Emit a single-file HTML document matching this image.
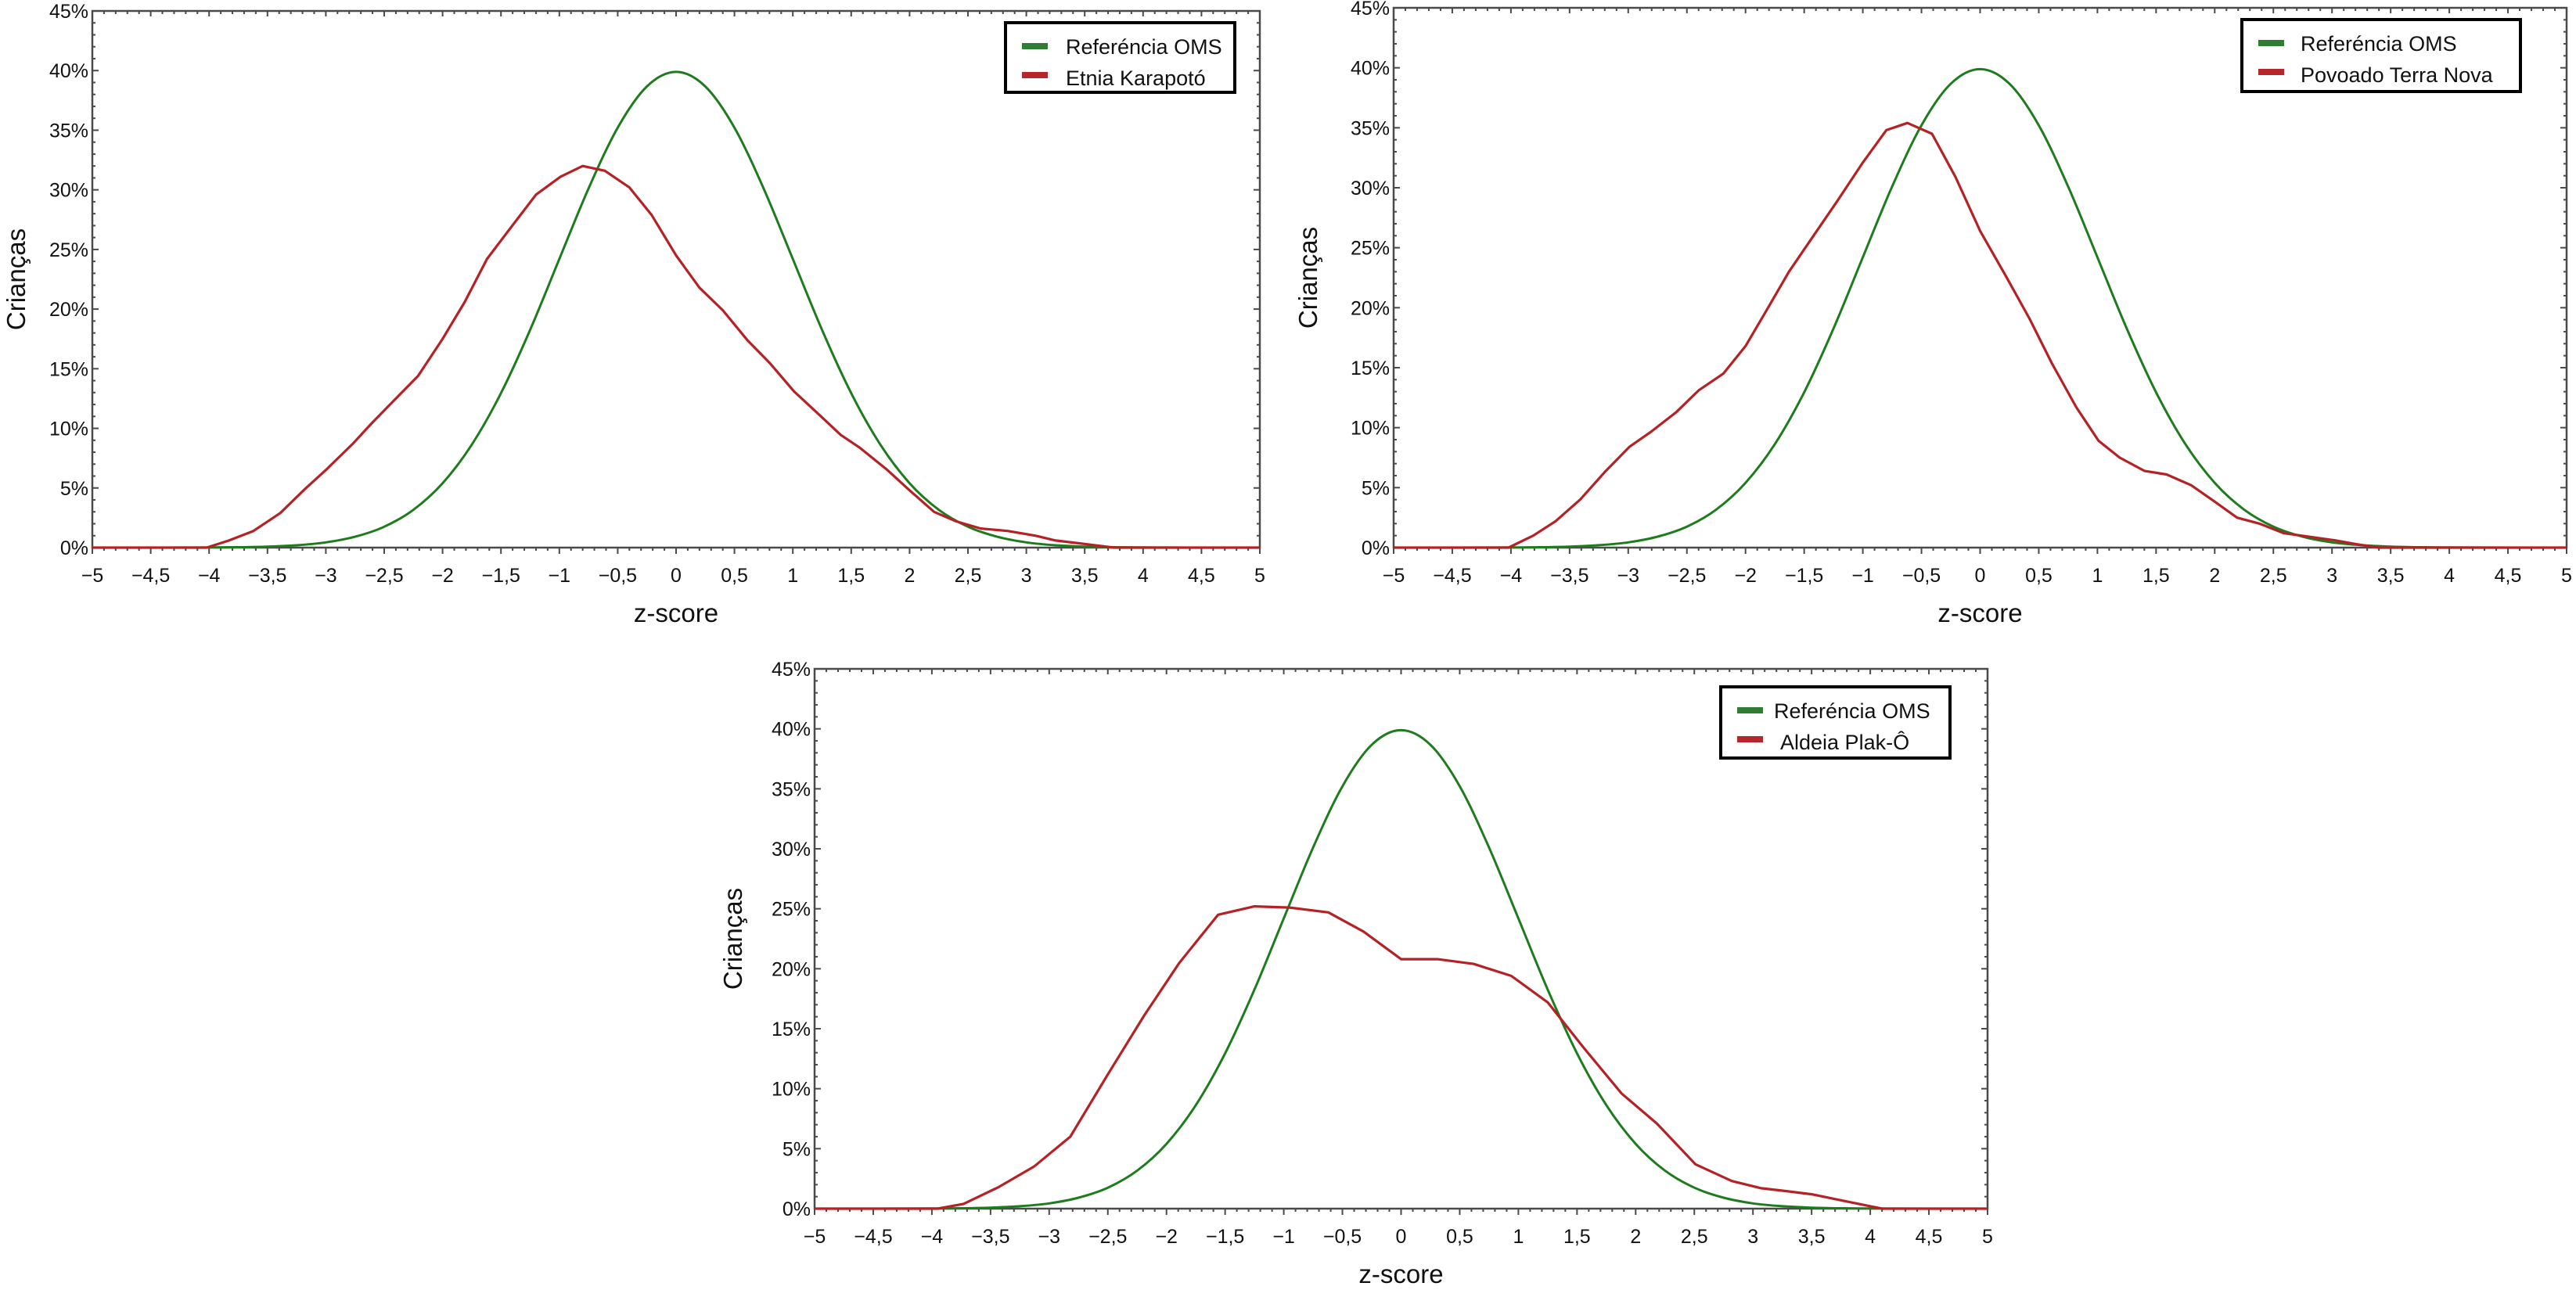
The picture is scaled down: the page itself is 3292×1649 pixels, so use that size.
<!DOCTYPE html>
<html><head><meta charset="utf-8"><style>
html,body{margin:0;padding:0;background:#fff;}
svg{display:block;font-family:"Liberation Sans",Arial,sans-serif;}
</style></head><body>
<svg id="fig" width="3292" height="1649" viewBox="0 0 3292 1649" xmlns="http://www.w3.org/2000/svg"></svg>
<script>
// ---- data ----
const xTickLabels = ["\u22125","\u22124,5","\u22124","\u22123,5","\u22123","\u22122,5","\u22122","\u22121,5","\u22121","\u22120,5","0","0,5","1","1,5","2","2,5","3","3,5","4","4,5","5"];
const yTickLabels = ["0%","5%","10%","15%","20%","25%","30%","35%","40%","45%"];
const whoZ = [-5,-4.75,-4.5,-4.25,-4,-3.75,-3.5,-3.25,-3,-2.75,-2.5,-2.25,-2,-1.75,-1.5,-1.25,-1,-0.75,-0.5,-0.25,0,0.25,0.5,0.75,1,1.25,1.5,1.75,2,2.25,2.5,2.75,3,3.25,3.5,3.75,4,4.25,4.5,4.75,5];
const whoVal = [0.0001,0.0005,0.002,0.005,0.013,0.035,0.087,0.20,0.44,0.91,1.75,3.17,5.40,8.63,12.95,18.26,24.20,30.11,35.21,38.67,39.89,38.67,35.21,30.11,24.20,18.26,12.95,8.63,5.40,3.17,1.75,0.91,0.44,0.20,0.087,0.035,0.013,0.005,0.002,0.0005,0.0001];

const karZ = [-5,-4.02,-3.83,-3.62,-3.39,-3.18,-2.99,-2.77,-2.61,-2.42,-2.21,-2.0,-1.81,-1.62,-1.41,-1.2,-0.99,-0.8,-0.61,-0.4,-0.21,0.0,0.2,0.4,0.61,0.8,1.01,1.22,1.41,1.57,1.81,2.0,2.21,2.4,2.61,2.84,3.08,3.25,3.5,3.75,5];
const karVal = [0,0,0.6,1.4,2.9,4.9,6.6,8.7,10.4,12.3,14.4,17.5,20.6,24.2,26.9,29.6,31.1,32.0,31.6,30.2,27.9,24.5,21.8,19.9,17.4,15.5,13.1,11.2,9.45,8.4,6.5,4.8,3.0,2.2,1.6,1.4,1.0,0.6,0.3,0,0];

const tnZ = [-5,-4.02,-3.81,-3.62,-3.41,-3.2,-2.99,-2.8,-2.59,-2.4,-2.19,-2.0,-1.82,-1.63,-1.42,-1.21,-1.0,-0.8,-0.62,-0.41,-0.21,0.0,0.21,0.42,0.61,0.82,1.01,1.19,1.4,1.59,1.8,1.99,2.19,2.38,2.59,2.81,3.03,3.2,3.4,5];
const tnVal = [0,0,1.0,2.2,4.0,6.3,8.4,9.7,11.3,13.1,14.5,16.8,19.8,23.0,26.0,29.0,32.1,34.8,35.4,34.5,30.9,26.4,22.8,19.1,15.4,11.7,8.9,7.5,6.4,6.1,5.2,3.9,2.5,2.0,1.2,0.9,0.6,0.3,0,0];

const plakZ = [-5,-3.95,-3.73,-3.43,-3.13,-2.82,-2.5,-2.19,-1.89,-1.56,-1.25,-0.95,-0.62,-0.32,0.0,0.31,0.62,0.94,1.25,1.55,1.88,2.18,2.51,2.82,3.07,3.25,3.5,3.75,4.0,4.1,5];
const plakVal = [0,0,0.4,1.8,3.5,6.0,11.2,16.1,20.5,24.5,25.2,25.1,24.7,23.1,20.8,20.8,20.4,19.4,17.2,13.5,9.6,7.1,3.7,2.3,1.7,1.5,1.2,0.7,0.2,0,0];

const panelNames = ["Etnia Karapotó","Povoado Terra Nova","Aldeia Plak-Ô"];

// ---- layout ----
const NS = "http://www.w3.org/2000/svg";
const svg = document.getElementById('fig');
function mk(tag, attrs, parent){ const e=document.createElementNS(NS,tag); for(const k in attrs) e.setAttribute(k,attrs[k]); (parent||svg).appendChild(e); return e; }

function smoothPath(pts){
  let d = "M"+pts[0][0].toFixed(1)+","+pts[0][1].toFixed(1);
  for(let i=0;i<pts.length-1;i++){
    const p0=pts[Math.max(0,i-1)], p1=pts[i], p2=pts[i+1], p3=pts[Math.min(pts.length-1,i+2)];
    const c1=[p1[0]+(p2[0]-p0[0])/6, p1[1]+(p2[1]-p0[1])/6];
    const c2=[p2[0]-(p3[0]-p1[0])/6, p2[1]-(p3[1]-p1[1])/6];
    d+=" C"+c1[0].toFixed(1)+","+c1[1].toFixed(1)+" "+c2[0].toFixed(1)+","+c2[1].toFixed(1)+" "+p2[0].toFixed(1)+","+p2[1].toFixed(1);
  }
  return d;
}

function drawPanel(cfg, zArr, vArr, label, idx){
  const g = mk('g',{});
  
  
  const L=cfg.l,R=cfg.r,T=cfg.t,B=cfg.b;
  const xs = z => L + (z+5)/10*(R-L);
  const ys = v => B - v/45*(B-T);
  const ax = '#4a4a4a';
  const fr = mk('rect',{x:L,y:T,width:R-L,height:B-T,fill:'none',stroke:ax,'stroke-width':2.5},g);
  
  
  for(let i=0;i<=100;i++){
    const x = L + i/100*(R-L);
    const major = i%5===0;
    const lb = major?8:4;
    mk('line',{x1:x,y1:B,x2:x,y2:B+lb,stroke:ax,'stroke-width':2},g);
    mk('line',{x1:x,y1:T,x2:x,y2:T+(major?7:4),stroke:ax,'stroke-width':2},g);
  }
  xTickLabels.forEach((t,i)=>{
    const tx = mk('text',{x:xs(-5+i*0.5),y:B+44,'font-size':25,'text-anchor':'middle',fill:'#111'},g);
    
    
    tx.textContent=t;
  });
  for(let i=0;i<=45;i++){
    const y = ys(i);
    const major = i%5===0;
    mk('line',{x1:L,y1:y,x2:L+(major?8:4),y2:y,stroke:ax,'stroke-width':2},g);
    mk('line',{x1:R,y1:y,x2:R-(major?8:4),y2:y,stroke:ax,'stroke-width':2},g);
  }
  yTickLabels.forEach((t,i)=>{
    const ty = mk('text',{x:L-5,y:ys(i*5)+9,'font-size':25,'text-anchor':'end',fill:'#111'},g);
    
    
    ty.textContent=t;
  });
  const xt = mk('text',{x:(L+R)/2,y:B+95,'font-size':33,'text-anchor':'middle',fill:'#111'},g);
  
  
  xt.textContent='z-score';
  const cy=(T+B)/2;
  const yt = mk('text',{x:cfg.ytx,y:cy,'font-size':33,'text-anchor':'middle',fill:'#111',transform:'rotate(-90 '+cfg.ytx+' '+cy+')'},g);
  
  
  yt.textContent='Crianças';
  const gp = mk('path',{d:smoothPath(whoZ.map((z,i)=>[xs(z),ys(whoVal[i])])),fill:'none',stroke:'#1e7b1e','stroke-width':3,'stroke-linejoin':'round'},g);
  
  
  const rp = mk('path',{d:"M"+zArr.map((z,i)=>xs(z).toFixed(1)+","+ys(vArr[i]).toFixed(1)).join(" L"),fill:'none',stroke:'#b52226','stroke-width':3.2,'stroke-linejoin':'round'},g);
  
  
  const lg = mk('g',{},g);
  
  
  const lb=cfg.leg;
  mk('rect',{x:lb[0],y:lb[1],width:lb[2]-lb[0],height:lb[3]-lb[1],fill:'#fff',stroke:'#000','stroke-width':4},lg);
  const e1 = mk('g',{},lg);
  
  
  mk('rect',{x:lb[0]+cfg.sw,y:lb[1]+26,width:33,height:8,fill:'#2f7d32'},e1);
  const t1=mk('text',{x:lb[0]+cfg.tx,y:lb[1]+40,'font-size':27,fill:'#111'},e1);
  t1.textContent='Referéncia OMS';
  const e2 = mk('g',{},lg);
  
  
  mk('rect',{x:lb[0]+cfg.sw,y:lb[1]+63,width:33,height:8,fill:'#b5272d'},e2);
  const t2=mk('text',{x:lb[0]+cfg.tx+cfg.t2off,y:lb[1]+80,'font-size':27,fill:'#111'},e2);
  t2.textContent=label;
}

drawPanel({l:118,r:1610,t:14,b:700,ytx:32,leg:[1285,29,1578,118],sw:21,tx:77,t2off:0}, karZ, karVal, panelNames[0], 0);
drawPanel({l:1781,r:3280,t:10,b:700,ytx:1683,leg:[2865,25,3221,117],sw:21,tx:75,t2off:0}, tnZ, tnVal, panelNames[1], 1);
drawPanel({l:1041,r:2540,t:855,b:1545,ytx:948,leg:[2199,878,2492,969],sw:21,tx:68,t2off:8}, plakZ, plakVal, panelNames[2], 2);
</script>
</body></html>
